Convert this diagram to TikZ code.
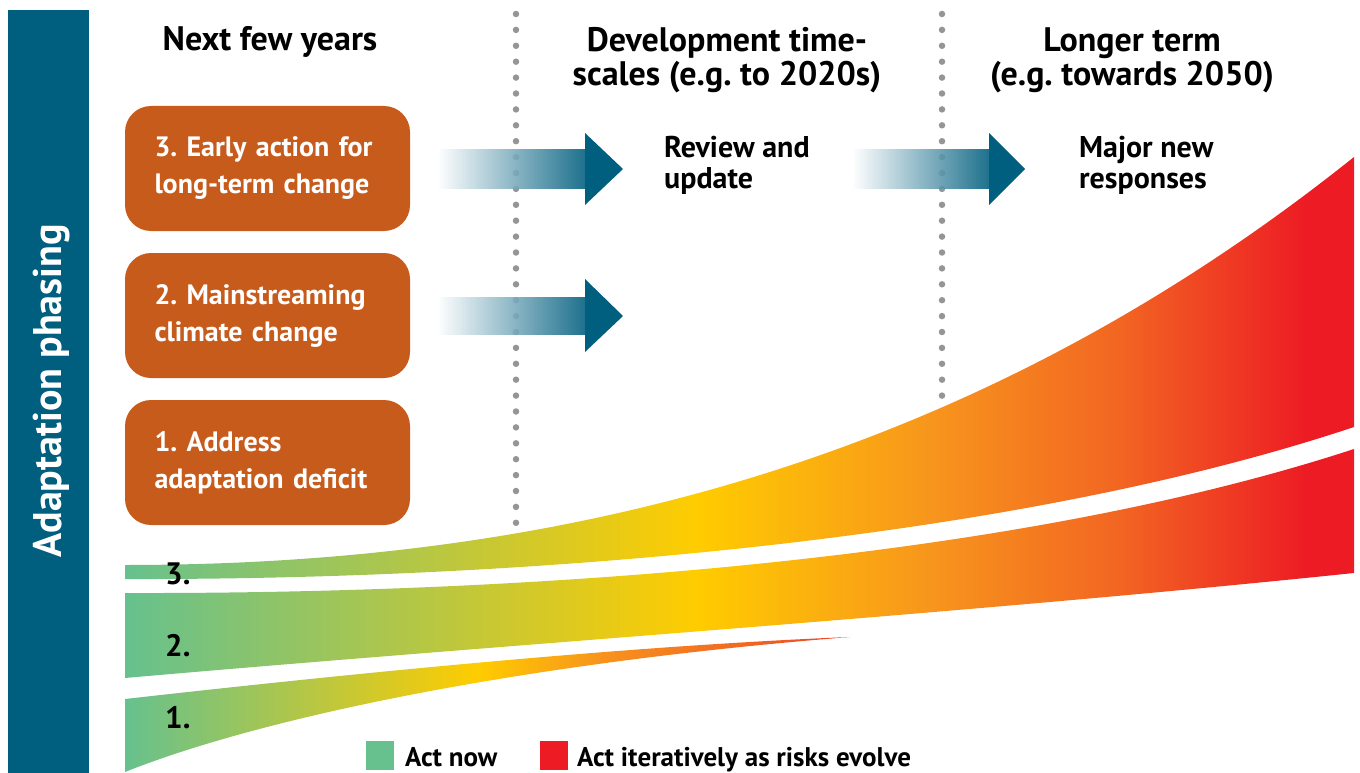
\documentclass[tikz,border=0pt]{standalone}
\usepackage{fontspec}
\setmainfont{PT Sans}
\frenchspacing
\definecolor{barblue}{HTML}{005E7E}
\definecolor{boxorange}{HTML}{C75B1C}
\definecolor{dotgrey}{HTML}{939598}
\definecolor{bgreen}{HTML}{66C18E}
\definecolor{byellow}{HTML}{FFCC00}
\definecolor{borange}{HTML}{F7941D}
\definecolor{bdorange}{HTML}{F26522}
\definecolor{bred}{HTML}{ED1C24}
\definecolor{btip}{HTML}{EE4023}
\definecolor{arrowmid}{HTML}{8A9EB6}
\pgfdeclarehorizontalshading{bandlong}{100bp}{color(0bp)=(bgreen); color(25bp)=(bgreen); color(48.25bp)=(byellow); color(58bp)=(borange); color(65.5bp)=(bdorange); color(73bp)=(bred); color(100bp)=(bred)}
\pgfdeclarehorizontalshading{bandshort}{100bp}{color(0bp)=(bgreen); color(25bp)=(bgreen); color(49.3bp)=(byellow); color(57.75bp)=(borange); color(68bp)=(bdorange); color(75bp)=(btip); color(100bp)=(btip)}
\tikzset{
  phasebox/.style={fill=boxorange, rounded corners=26pt, minimum width=285pt, minimum height=125pt, text width=226pt, align=left, inner sep=0pt, text=white, font=\bfseries\fontsize{28}{37}\selectfont},
  head/.style={font=\bfseries\fontsize{34}{34}\selectfont, align=center, inner sep=0pt, anchor=base},
  steptext/.style={font=\bfseries\fontsize{30}{31}\selectfont, align=left, inner sep=0pt, anchor=base west},
  numlab/.style={font=\bfseries\fontsize{31}{32}\selectfont, inner sep=0pt, anchor=base west},
  legtext/.style={font=\bfseries\fontsize{27}{28}\selectfont, inner sep=0pt, anchor=base west},
  legbox/.style={minimum width=28pt, minimum height=29pt, inner sep=0pt},
  dotline/.style={dotgrey, line width=6.5pt, line cap=round, dash pattern=on 0pt off 15.9pt},
  shaft/.style={left color=white, middle color=arrowmid, right color=barblue, opacity=0.88},
  ahead/.style={fill=barblue}
}
\begin{document}
\begin{tikzpicture}[x=1pt,y=-1pt]
\useasboundingbox (0,0) rectangle (1360,773);
% side bar
\fill[barblue] (8,10) rectangle (89,773);
\node[rotate=90, text=white, font=\bfseries\fontsize{40}{42}\selectfont, inner sep=0pt] (side) at (52,391) {Adaptation phasing};
% dotted separators
\coordinate (d1t) at (516,14);
\coordinate (d1b) at (516,536);
\coordinate (d2t) at (942,14);
\coordinate (d2b) at (942,398);
\draw[dotline] (d1t) -- (d1b);
\draw[dotline] (d2t) -- (d2b);
% arrows
\shade[shaft] (437,150) rectangle (585,188);
\fill[ahead] (585,133) -- (623,169) -- (585,205) -- cycle;
\shade[shaft] (437,297) rectangle (585,334);
\fill[ahead] (585,279) -- (623,316) -- (585,352) -- cycle;
\shade[shaft] (852,150) rectangle (989,188);
\fill[ahead] (989,133) -- (1025,169) -- (989,205) -- cycle;
% bands
\shade[shading=bandlong] (125,565) .. controls (600,565) and (1000,440) .. (1354,157)
  -- (1354,427) .. controls (1000,545) and (500,580) .. (125,579) -- cycle;
\shade[shading=bandlong] (125,593) .. controls (500,594) and (1000,565) .. (1354,449)
  -- (1354,573) .. controls (950,615) and (500,645) .. (125,678) -- cycle;
\shade[shading=bandshort] (125,699) .. controls (400,668) and (650,645) .. (850,637)
  .. controls (500,665) and (250,722) .. (125,772) -- cycle;
% boxes
\node[phasebox] (b3) at (267.5,168.5) {3. Early action for\\long-term change};
\node[phasebox] (b2) at (267.5,315.5) {2. Mainstreaming\\climate change};
\node[phasebox] (b1) at (267.5,462.5) {1. Address\\adaptation deficit};
% headers
\node[head] (h1) at (270,51) {Next few years};
\node[head] (h2) at (727,86) {Development time-\\scales (e.g. to 2020s)};
\node[head] (h3) at (1132,86) {Longer term\\(e.g. towards 2050)};
% step texts
\node[steptext] (rev) at (664,188) {Review and\\update};
\node[steptext] (maj) at (1079,188) {Major new\\responses};
% band labels
\node[numlab] (n3) at (165,584) {3.};
\node[numlab] (n2) at (165,656) {2.};
\node[numlab] (n1) at (165,728) {1.};
% legend
\node[legbox, fill=bgreen] (lg) at (380,755.5) {};
\node[legtext] (lgt) at (405,766) {Act now};
\node[legbox, fill=bred] (lr) at (554,755.5) {};
\node[legtext] (lrt) at (577,766) {Act iteratively as risks evolve};
\end{tikzpicture}
\end{document}
